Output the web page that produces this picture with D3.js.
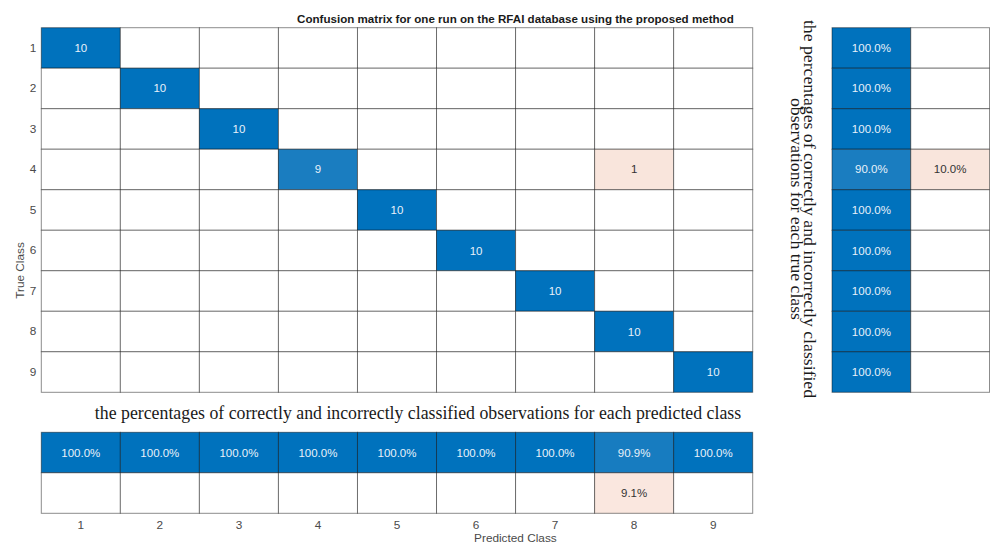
<!DOCTYPE html>
<html>
<head>
<meta charset="utf-8">
<script src="https://cdn.jsdelivr.net/npm/d3@7"></script>
<style>
  html, body { margin: 0; padding: 0; background: #ffffff; }
  svg { display: block; }
</style>
</head>
<body>
<svg id="chart" width="990" height="545"></svg>
<script>
// Class labels (shared by true and predicted axes)
const classes = ["1", "2", "3", "4", "5", "6", "7", "8", "9"];

// Confusion counts: rows = true class, columns = predicted class
const counts = [
  [10, 0, 0, 0, 0, 0, 0, 0, 0],
  [0, 10, 0, 0, 0, 0, 0, 0, 0],
  [0, 0, 10, 0, 0, 0, 0, 0, 0],
  [0, 0, 0, 9, 0, 0, 0, 1, 0],
  [0, 0, 0, 0, 10, 0, 0, 0, 0],
  [0, 0, 0, 0, 0, 10, 0, 0, 0],
  [0, 0, 0, 0, 0, 0, 10, 0, 0],
  [0, 0, 0, 0, 0, 0, 0, 10, 0],
  [0, 0, 0, 0, 0, 0, 0, 0, 10]
];

const summaryKeys = ["correct", "incorrect"];

const titleText = "Confusion matrix for one run on the RFAI database using the proposed method";
const rowSummaryLines = [
  "the percentages of correctly and incorrectly classified",
  "observations for each true class"
];
const colSummaryText = "the percentages of correctly and incorrectly classified observations for each predicted class";

const svg = d3.select("#chart");

// Layout
const grid = { left: 41.3, right: 752.7, top: 27.7, bottom: 392.3 };
const rowPanel = { left: 832, right: 989.5 };
const colPanel = { top: 432.3, bottom: 513.3 };

const x = d3.scaleBand().domain(classes).range([grid.left, grid.right]);
const y = d3.scaleBand().domain(classes).range([grid.top, grid.bottom]);
const xr = d3.scaleBand().domain(summaryKeys).range([rowPanel.left, rowPanel.right]);
const yc = d3.scaleBand().domain(summaryKeys).range([colPanel.top, colPanel.bottom]);

// Colour scales: diagonal (correct) in blue, off-diagonal (errors) in orange tint
const blue = d3.scaleLinear().domain([0, 1]).range(["#ffe0db", "#0072BD"]).clamp(true);
const orange = d3.scaleLinear().domain([0, 0.65]).range(["#ffffff", "#D95319"]).clamp(true);
const maxCount = d3.max(counts.flat());

const cellStroke = "rgba(0,0,0,0.45)";
const sansFont = "'Liberation Sans', Arial, Helvetica, sans-serif";
const serifFont = "'Liberation Serif', 'Times New Roman', serif";
const cellFontSize = 11.5;
const labelFontSize = 11.8;

function fillFor(isCorrect, frac) {
  if (frac === 0) return "#ffffff";
  return isCorrect ? blue(frac) : orange(frac);
}
function textFor(isCorrect, frac) {
  return isCorrect && frac > 0 ? "#e8f1fa" : "#333333";
}

// Main matrix cells
const cells = [];
counts.forEach((row, i) => row.forEach((v, j) => cells.push({
  t: classes[i], p: classes[j], v, diag: i === j
})));

const gMain = svg.append("g");
gMain.selectAll("rect").data(cells).join("rect")
  .attr("x", d => x(d.p))
  .attr("y", d => y(d.t))
  .attr("width", x.bandwidth())
  .attr("height", y.bandwidth())
  .attr("fill", d => fillFor(d.diag, d.v / maxCount))
  .attr("stroke", cellStroke)
  .attr("stroke-width", 1);

gMain.selectAll("text").data(cells.filter(d => d.v > 0)).join("text")
  .attr("x", d => x(d.p) + x.bandwidth() / 2)
  .attr("y", d => y(d.t) + y.bandwidth() / 2)
  .attr("text-anchor", "middle")
  .attr("dominant-baseline", "central")
  .attr("font-family", sansFont)
  .attr("font-size", cellFontSize)
  .attr("fill", d => textFor(d.diag, d.v / maxCount))
  .text(d => d.v);

// Row summary: per true class, share correct vs misclassified
const rowTotals = counts.map(r => d3.sum(r));
const rowCells = [];
classes.forEach((c, i) => {
  const correct = counts[i][i] / rowTotals[i];
  rowCells.push({ c, key: "correct", frac: correct });
  rowCells.push({ c, key: "incorrect", frac: 1 - correct });
});

const gRow = svg.append("g");
gRow.selectAll("rect").data(rowCells).join("rect")
  .attr("x", d => xr(d.key))
  .attr("y", d => y(d.c))
  .attr("width", xr.bandwidth())
  .attr("height", y.bandwidth())
  .attr("fill", d => fillFor(d.key === "correct", d.frac))
  .attr("stroke", cellStroke)
  .attr("stroke-width", 1);

gRow.selectAll("text").data(rowCells.filter(d => d.frac > 0)).join("text")
  .attr("x", d => xr(d.key) + xr.bandwidth() / 2)
  .attr("y", d => y(d.c) + y.bandwidth() / 2)
  .attr("text-anchor", "middle")
  .attr("dominant-baseline", "central")
  .attr("font-family", sansFont)
  .attr("font-size", cellFontSize)
  .attr("fill", d => textFor(d.key === "correct", d.frac))
  .text(d => (d.frac * 100).toFixed(1) + "%");

// Column summary: per predicted class, precision vs false discovery
const colTotals = classes.map((_, j) => d3.sum(counts, r => r[j]));
const colCells = [];
classes.forEach((c, j) => {
  const correct = counts[j][j] / colTotals[j];
  colCells.push({ c, key: "correct", frac: correct });
  colCells.push({ c, key: "incorrect", frac: 1 - correct });
});

const gCol = svg.append("g");
gCol.selectAll("rect").data(colCells).join("rect")
  .attr("x", d => x(d.c))
  .attr("y", d => yc(d.key))
  .attr("width", x.bandwidth())
  .attr("height", yc.bandwidth())
  .attr("fill", d => fillFor(d.key === "correct", d.frac))
  .attr("stroke", cellStroke)
  .attr("stroke-width", 1);

gCol.selectAll("text").data(colCells.filter(d => d.frac > 1e-9)).join("text")
  .attr("x", d => x(d.c) + x.bandwidth() / 2)
  .attr("y", d => yc(d.key) + yc.bandwidth() / 2)
  .attr("text-anchor", "middle")
  .attr("dominant-baseline", "central")
  .attr("font-family", sansFont)
  .attr("font-size", cellFontSize)
  .attr("fill", d => textFor(d.key === "correct", d.frac))
  .text(d => (d.frac * 100).toFixed(1) + "%");

// Axes
const yAxis = svg.append("g")
  .attr("transform", `translate(${grid.left},0)`)
  .call(d3.axisLeft(y).tickSize(0).tickPadding(5));
const xAxis = svg.append("g")
  .attr("transform", `translate(0,${colPanel.bottom})`)
  .call(d3.axisBottom(x).tickSize(0).tickPadding(7));
[yAxis, xAxis].forEach(a => {
  a.select(".domain").remove();
  a.selectAll("text")
    .attr("font-family", sansFont)
    .attr("font-size", labelFontSize)
    .attr("fill", "#4a4a4a");
});

// Axis labels
svg.append("text")
  .attr("transform", `translate(20,${(grid.top + colPanel.bottom) / 2}) rotate(-90)`)
  .attr("text-anchor", "middle")
  .attr("dominant-baseline", "central")
  .attr("font-family", sansFont)
  .attr("font-size", labelFontSize)
  .attr("fill", "#4a4a4a")
  .text("True Class");

svg.append("text")
  .attr("x", (grid.left + rowPanel.right) / 2)
  .attr("y", 538)
  .attr("text-anchor", "middle")
  .attr("dominant-baseline", "central")
  .attr("font-family", sansFont)
  .attr("font-size", labelFontSize)
  .attr("fill", "#4a4a4a")
  .text("Predicted Class");

// Title
svg.append("text")
  .attr("x", (grid.left + rowPanel.right) / 2)
  .attr("y", 18)
  .attr("text-anchor", "middle")
  .attr("dominant-baseline", "central")
  .attr("font-family", sansFont)
  .attr("font-size", 11.6)
  .attr("font-weight", "bold")
  .attr("fill", "#1a1a1a")
  .text(titleText);

// Captions for the summary panels
svg.append("text")
  .attr("x", 418)
  .attr("y", 413)
  .attr("text-anchor", "middle")
  .attr("dominant-baseline", "central")
  .attr("font-family", serifFont)
  .attr("font-size", 17.8)
  .attr("fill", "#1a1a1a")
  .text(colSummaryText);

const rowCaption = svg.append("text")
  .attr("transform", `translate(810,209) rotate(90)`)
  .attr("text-anchor", "middle")
  .attr("font-family", serifFont)
  .attr("font-size", 17.7)
  .attr("fill", "#1a1a1a");
rowSummaryLines.forEach((line, i) => {
  rowCaption.append("tspan")
    .attr("x", 0)
    .attr("y", i * 13.5)
    .attr("dominant-baseline", "central")
    .text(line);
});
</script>
</body>
</html>
